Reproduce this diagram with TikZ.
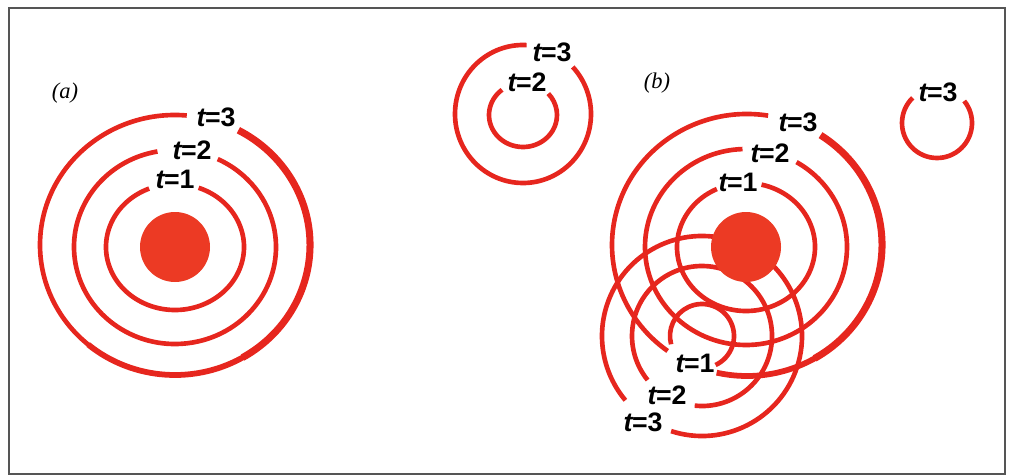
\documentclass[tikz,border=0pt]{standalone}
\usepackage{fontspec}
\setmainfont{Liberation Serif}
\newfontfamily\lblfont{Liberation Sans}
\usepackage{xcolor}
\usepackage{tikz}
\definecolor{wavered}{RGB}{230,38,30}
\definecolor{dotred}{RGB}{236,58,36}
\definecolor{framegray}{RGB}{85,85,85}

\begin{document}
\begin{tikzpicture}[
  x=0.025cm, y=0.025cm,
  wave/.style={draw=wavered,line width=3.3pt},
  wavemid/.style={draw=wavered,line width=4.1pt},
  wavethick/.style={draw=wavered,line width=5pt},
  lbl/.style={font=\lblfont\bfseries\fontsize{19}{21}\selectfont,inner sep=0pt},
  panel/.style={font=\itshape\fontsize{16}{18}\selectfont,inner sep=0pt}
]
  \useasboundingbox (0,0) rectangle (1010,475);
  \draw[framegray,line width=1.4pt] (9,1) rectangle (1005,467);

  % (a) source at rest
  \draw[wave] (175,228) ++(112:69 and 63) arc[start angle=112,end angle=430,x radius=69,y radius=63];
  \draw[wave] (175,228) ++(100:101 and 97) arc[start angle=100,end angle=425,x radius=101,y radius=97];
  \draw[wave] (175,230) ++(85:135 and 130) arc[start angle=85,end angle=232,x radius=135,y radius=130];
  \draw[wavemid] (175,230) ++(230:135 and 130) arc[start angle=230,end angle=302,x radius=135,y radius=130];
  \draw[wavethick] (175,230) ++(300:135 and 130) arc[start angle=300,end angle=422,x radius=135,y radius=130];
  \fill[dotred] (175,228) circle[radius=35];

  \node[panel] (panelA) at (65,382) {(a)};
  \node[lbl] (a1) at (175,296) {\textit{t}\kern-0.05em=1};
  \node[lbl] (a2) at (192,325) {\textit{t}\kern-0.05em=2};
  \node[lbl] (a3) at (216,358) {\textit{t}\kern-0.05em=3};

  % small circles on top
  \draw[wave] (523,361) ++(87:68 and 69) arc[start angle=87,end angle=403,x radius=68,y radius=69];
  \draw[wave] (523,360) ++(128:34 and 32) arc[start angle=128,end angle=402,x radius=34,y radius=32];
  \draw[wave] (937,352) ++(134:35) arc[start angle=134,end angle=399,radius=35];
  \node[lbl] (m2) at (527,393) {\textit{t}\kern-0.05em=2};
  \node[lbl] (m3) at (552,423) {\textit{t}\kern-0.05em=3};
  \node[lbl] (r3) at (938,383) {\textit{t}\kern-0.05em=3};

  % (b) moving source
  \draw[wave] (746,228) ++(115:69 and 64) arc[start angle=115,end angle=437,x radius=69,y radius=64];
  \draw[wave] (746,228) ++(92:101 and 98) arc[start angle=92,end angle=420,x radius=101,y radius=98];
  \draw[wave] (747,230) ++(81:135 and 131) arc[start angle=81,end angle=234,x radius=135,y radius=131];
  \draw[wavemid] (747,230) ++(257:135 and 131) arc[start angle=257,end angle=302,x radius=135,y radius=131];
  \draw[wavethick] (747,230) ++(300:135 and 131) arc[start angle=300,end angle=417,x radius=135,y radius=131];

  \draw[wave] (702,139) ++(295:32) arc[start angle=295,end angle=555,radius=32];
  \draw[wave] (702,139) ++(264:70) arc[start angle=264,end angle=579,radius=70];
  \draw[wave] (702,139) ++(252:100) arc[start angle=252,end angle=580,radius=100];
  \fill[dotred] (746,228) circle[radius=35];

  \node[panel] (panelB) at (657,392) {(b)};
  \node[lbl] (bu1) at (738,293) {\textit{t}\kern-0.05em=1};
  \node[lbl] (bu2) at (770,322) {\textit{t}\kern-0.05em=2};
  \node[lbl] (bu3) at (798,353) {\textit{t}\kern-0.05em=3};
  \node[lbl] (bl1) at (695,112) {\textit{t}\kern-0.05em=1};
  \node[lbl] (bl2) at (667,80) {\textit{t}\kern-0.05em=2};
  \node[lbl] (bl3) at (643,53) {\textit{t}\kern-0.05em=3};
\end{tikzpicture}
\end{document}
